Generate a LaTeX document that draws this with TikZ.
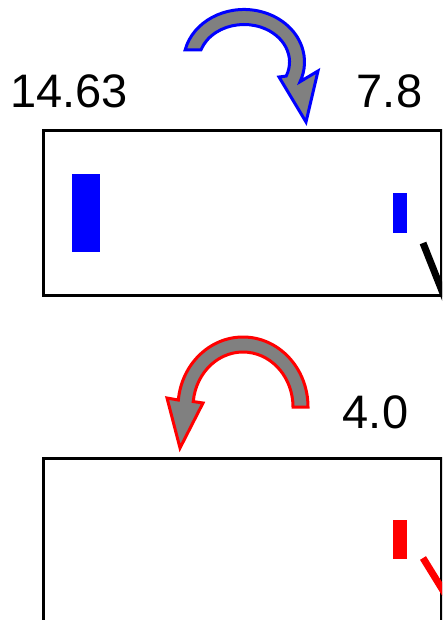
\documentclass[tikz,border=0pt]{standalone}
\usepackage{fontspec}
\setmainfont{Liberation Sans}
\usetikzlibrary{calc}
\definecolor{arrowGray}{HTML}{808080}
\definecolor{barBlue}{HTML}{0000FF}
\definecolor{barRed}{HTML}{FF0000}

\begin{document}
\begin{tikzpicture}[
  x=1pt,y=-1pt,
  val/.style={anchor=base,inner sep=0pt,font=\fontsize{47}{47}\selectfont},
  frame/.style={draw,line width=3pt},
  lever/.style={line width=7pt},
  turn/.style={fill=arrowGray,line width=3pt,line join=miter}
]
  \useasboundingbox (0,0) rectangle (442,620);
  \clip (0,0) rectangle (442,620);

  % values
  \node[val] (leftVal) at (69,108) {14.63};
  \node[val] (rightVal) at (389.5,108) {7.8};
  \node[val] (lowVal) at (375.5,428) {4.0};

  % frames
  \draw[frame] (43,131) rectangle (441,295);
  \draw[frame] (43,458) rectangle (441,640);

  % bars
  \fill[barBlue] (72,174) rectangle (100,252);
  \fill[barBlue] (393,193) rectangle (407,233);
  \fill[barRed] (393,520) rectangle (407,559);

  % levers
  \coordinate (upA) at (423,243);
  \coordinate (upB) at (450,311);
  \coordinate (lowA) at (423,558);
  \coordinate (lowB) at (460,618);
  \draw[lever] (upA) -- (upB);
  \draw[lever,barRed] (lowA) -- (lowB);

  % turning arrows
  \filldraw[turn,draw=barBlue] (185.1,50)
    arc[start angle=193.2,end angle=382,x radius=60.5,y radius=52.5]
    -- (318,71) -- (306,122) -- (279,77) -- (286.2,76.05)
    arc[start angle=382,end angle=198.7,x radius=45.5,y radius=37.5] -- cycle;
  \filldraw[turn,draw=barRed] (308,407)
    arc[start angle=0,end angle=-174.3,x radius=65,y radius=70]
    -- (167,398) -- (180,448) -- (203,403) -- (193.25,401.54)
    arc[start angle=-174.3,end angle=0,x radius=50,y radius=55] -- cycle;
\end{tikzpicture}
\end{document}
